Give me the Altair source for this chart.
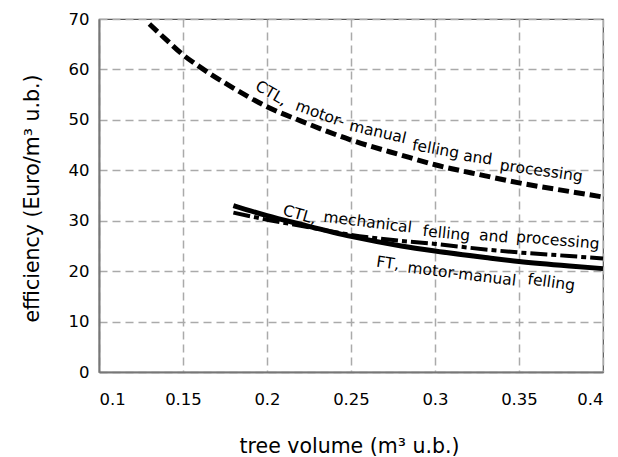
import altair as alt
import pandas as pd

# axis ticks
x_ticks = [0.1, 0.15, 0.2, 0.25, 0.3, 0.35, 0.4]
y_ticks = [0, 10, 20, 30, 40, 50, 60, 70]

# CTL, motor-manual felling and processing (dashed)
ctl_mm_x = [0.13, 0.14, 0.15, 0.16, 0.18, 0.2, 0.22, 0.25, 0.28, 0.3, 0.33, 0.35, 0.38, 0.4]
ctl_mm_y = [69.0, 65.9, 62.9, 60.5, 56.3, 52.6, 49.8, 46.0, 43.0, 41.1, 38.9, 37.5, 35.8, 34.7]

# FT, motor-manual felling (solid) and CTL, mechanical (dash-dot)
low_x = [0.18, 0.2, 0.22, 0.25, 0.28, 0.3, 0.33, 0.35, 0.38, 0.4]
ft_mm_y = [33.0, 31.0, 29.3, 26.9, 25.0, 24.0, 22.7, 21.9, 21.0, 20.5]
ctl_mech_y = [31.6, 30.2, 29.0, 27.2, 26.0, 25.4, 24.3, 23.7, 23.0, 22.5]

# curve annotations (word, data x, data y, rotation)
lab_text = ["CTL,", "motor-", "manual", "felling", "and", "processing",
            "CTL,", "mechanical", "felling", "and", "processing",
            "FT,", "motor-manual", "felling"]
lab_x = [0.2026, 0.2317, 0.2660, 0.3004, 0.3255, 0.3633,
         0.2195, 0.2600, 0.3068, 0.3350, 0.3731,
         0.2719, 0.3160, 0.3692]
lab_y = [55.3, 51.2, 47.6, 44.2, 42.5, 39.9,
         31.2, 29.7, 27.5, 26.9, 26.1,
         21.6, 19.4, 17.8]
lab_angle = [30, 20, 13, 10, 8, 8,
             16, 7, 6, 5, 5,
             8, 7, 8]

df_dash = pd.DataFrame({"x": ctl_mm_x, "y": ctl_mm_y})
df_solid = pd.DataFrame({"x": low_x, "y": ft_mm_y})
df_dd = pd.DataFrame({"x": low_x, "y": ctl_mech_y})
df_lab = pd.DataFrame({"x": lab_x, "y": lab_y, "t": lab_text, "a": lab_angle})

FONT = "DejaVu Sans"

x_enc = alt.X(
    "x:Q",
    scale=alt.Scale(domain=[0.1, 0.4], nice=False, zero=False),
    axis=alt.Axis(
        values=x_ticks, format=".2~f", title="tree volume (m³ u.b.)",
        grid=True, gridDash=[8, 5], gridColor="#aaaaaa", gridWidth=1.5,
        ticks=False, labelPadding=19, labelFontSize=16.5, labelFont=FONT,
        labelColor="black", titleFont=FONT, titleFontSize=20.5,
        titleFontWeight="normal", titleColor="black",
        titleX=250, titleY=80, titleBaseline="alphabetic",
        domainColor="#777777", domainWidth=2,
    ),
)
y_enc = alt.Y(
    "y:Q",
    scale=alt.Scale(domain=[0, 70], nice=False),
    axis=alt.Axis(
        values=y_ticks, title="efficiency (Euro/m³ u.b.)",
        grid=True, gridDash=[8, 5], gridColor="#aaaaaa", gridWidth=1.5,
        ticks=False, labelPadding=10, labelFontSize=16.5, labelFont=FONT,
        labelColor="black", titleFont=FONT, titleFontSize=20.5,
        titleFontWeight="normal", titleColor="black",
        titleX=-67, titleY=179, titleBaseline="middle",
        domainColor="#777777", domainWidth=2,
    ),
)

dash = alt.Chart(df_dash).mark_line(
    color="black", strokeWidth=5, strokeDash=[11, 5], strokeCap="butt",
    interpolate="monotone",
).encode(x=x_enc, y=y_enc)

solid = alt.Chart(df_solid).mark_line(
    color="black", strokeWidth=5, strokeCap="butt", interpolate="monotone",
).encode(x=x_enc, y=y_enc)

dashdot = alt.Chart(df_dd).mark_line(
    color="black", strokeWidth=4, strokeDash=[17, 4, 5, 4], strokeCap="butt",
    interpolate="monotone",
).encode(x=x_enc, y=y_enc)

labels = alt.Chart(df_lab).mark_text(
    font=FONT, fontSize=15.5, align="center", baseline="middle", color="black",
).encode(
    x=x_enc, y=y_enc, text="t:N",
    angle=alt.Angle("a:Q", scale=None),
)

chart = alt.layer(dash, dashdot, solid, labels).properties(
    width=504, height=353,
    autosize=alt.AutoSizeParams(type="none"),
    padding={"left": 91, "top": 11, "right": 7, "bottom": 85},
).configure_view(stroke="#555555", strokeWidth=1.2)

chart.save("out.html", embed_options={"renderer": "svg", "actions": False})
